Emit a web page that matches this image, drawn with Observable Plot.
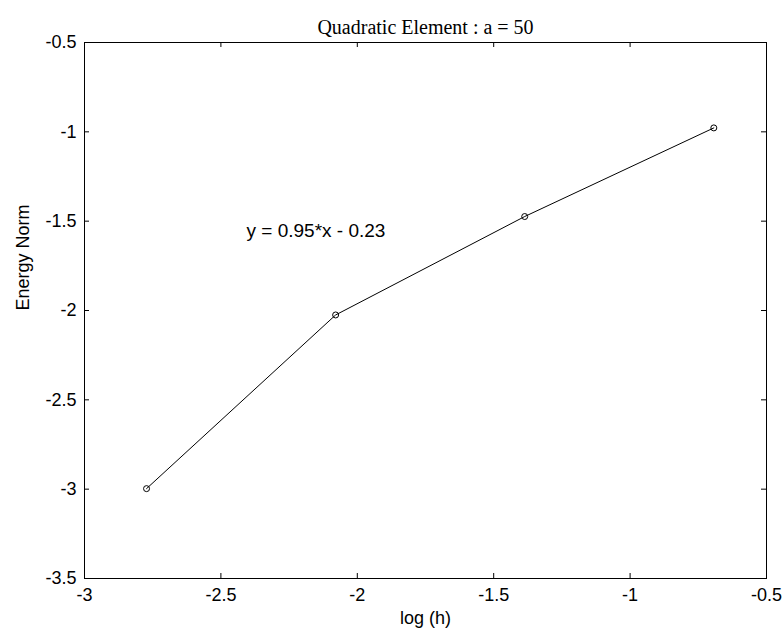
<!DOCTYPE html>
<html>
<head>
<meta charset="utf-8">
<script src="https://cdn.jsdelivr.net/npm/d3@7"></script>
<script src="https://cdn.jsdelivr.net/npm/@observablehq/plot@0.6"></script>
<style>
  html, body { margin: 0; padding: 0; background: #fff; }
  #chart svg { display: block; }
</style>
</head>
<body>
<div id="chart"></div>
<script>
// Data
const logH = [-2.7726, -2.0794, -1.3863, -0.6931];
const energyNorm = [-2.997, -2.025, -1.474, -0.978];
const xTicks = [-3, -2.5, -2, -1.5, -1, -0.5];
const yTicks = [-3.5, -3, -2.5, -2, -1.5, -1, -0.5];
const titleText = "Quadratic Element : a = 50";
const xLabel = "log (h)";
const yLabel = "Energy Norm";
const fitText = "y = 0.95*x - 0.23";
const fitPos = {x: -2.406, y: -1.552};

const data = logH.map((x, i) => ({x, y: energyNorm[i]}));

const W = 782, H = 638;
const mL = 84, mR = 16, mT = 42, mB = 60;
const pw = W - mL - mR, ph = H - mT - mB;
const fmt = d => String(d);
const sans = "'Liberation Sans', Arial, sans-serif";
const serif = "'Liberation Serif', 'Times New Roman', serif";
const fs = 18;
const tick = 5;

const chart = Plot.plot({
  width: W, height: H,
  marginLeft: mL, marginRight: mR, marginTop: mT, marginBottom: mB,
  style: {fontFamily: sans, fontSize: fs + "px", color: "black", background: "white"},
  x: {domain: [-3, -0.5]},
  y: {domain: [-3.5, -0.5]},
  marks: [
    Plot.frame({stroke: "black", strokeWidth: 1}),
    // inward ticks on all four sides
    Plot.tickX(xTicks, {x: d => d, stroke: "black", insetTop: ph - tick}),
    Plot.tickX(xTicks, {x: d => d, stroke: "black", insetBottom: ph - tick}),
    Plot.tickY(yTicks, {y: d => d, stroke: "black", insetRight: pw - tick}),
    Plot.tickY(yTicks, {y: d => d, stroke: "black", insetLeft: pw - tick}),
    Plot.axisX({ticks: xTicks, tickSize: 0, tickPadding: 10, tickFormat: fmt, label: null, fontSize: fs}),
    Plot.axisY({ticks: yTicks, tickSize: 0, tickPadding: 8, tickFormat: fmt, label: null, fontSize: fs}),
    Plot.line(data, {x: "x", y: "y", stroke: "black", strokeWidth: 1}),
    Plot.dot(data, {x: "x", y: "y", r: 3, stroke: "black", fill: "none", strokeWidth: 1}),
    Plot.text([fitText], {x: fitPos.x, y: fitPos.y, text: d => d, textAnchor: "start", fontSize: 19, fill: "black"}),
    Plot.text([titleText], {frameAnchor: "top", dy: -23, text: d => d, fontFamily: serif, fontSize: 20, fill: "black"}),
    Plot.text([xLabel], {frameAnchor: "bottom", dy: 45, text: d => d, fontSize: fs, fill: "black"}),
    Plot.text([yLabel], {frameAnchor: "left", dx: -61, rotate: -90, text: d => d, fontSize: fs, fill: "black"})
  ]
});
document.getElementById("chart").appendChild(chart);
</script>
</body>
</html>
